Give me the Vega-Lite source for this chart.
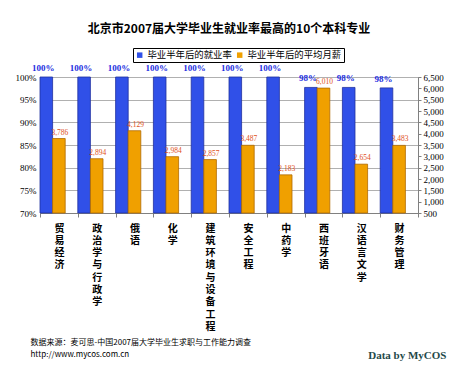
{
  "$schema": "https://vega.github.io/schema/vega-lite/v6.json",
  "autosize": {"type": "none"},
  "padding": {"left": 40, "top": 77, "right": 42, "bottom": 175},
  "width": 378,
  "height": 136,
  "background": "white",
  "title": {
    "text": "北京市2007届大学毕业生就业率最高的10个本科专业",
    "font": "Noto Sans CJK SC",
    "fontSize": 12,
    "fontWeight": "bold",
    "color": "#000000",
    "anchor": "middle",
    "offset": 12
  },
  "data": {
    "values": [
      {"major": "贸易经济", "series": "毕业半年后的就业率", "value": 1.0},
      {"major": "政治学与行政学", "series": "毕业半年后的就业率", "value": 1.0},
      {"major": "俄语", "series": "毕业半年后的就业率", "value": 1.0},
      {"major": "化学", "series": "毕业半年后的就业率", "value": 1.0},
      {"major": "建筑环境与设备工程", "series": "毕业半年后的就业率", "value": 1.0},
      {"major": "安全工程", "series": "毕业半年后的就业率", "value": 1.0},
      {"major": "中药学", "series": "毕业半年后的就业率", "value": 1.0},
      {"major": "西班牙语", "series": "毕业半年后的就业率", "value": 0.977},
      {"major": "汉语言文学", "series": "毕业半年后的就业率", "value": 0.977},
      {"major": "财务管理", "series": "毕业半年后的就业率", "value": 0.976},
      {"major": "贸易经济", "series": "毕业半年后的平均月薪", "value": 3786},
      {"major": "政治学与行政学", "series": "毕业半年后的平均月薪", "value": 2894},
      {"major": "俄语", "series": "毕业半年后的平均月薪", "value": 4129},
      {"major": "化学", "series": "毕业半年后的平均月薪", "value": 2984},
      {"major": "建筑环境与设备工程", "series": "毕业半年后的平均月薪", "value": 2857},
      {"major": "安全工程", "series": "毕业半年后的平均月薪", "value": 3487},
      {"major": "中药学", "series": "毕业半年后的平均月薪", "value": 2183},
      {"major": "西班牙语", "series": "毕业半年后的平均月薪", "value": 6010},
      {"major": "汉语言文学", "series": "毕业半年后的平均月薪", "value": 2654},
      {"major": "财务管理", "series": "毕业半年后的平均月薪", "value": 3483}
    ]
  },
  "encoding": {
    "x": {
      "field": "major",
      "type": "nominal",
      "sort": null,
      "scale": {"paddingInner": 0, "paddingOuter": 0},
      "axis": {
        "labelAngle": 0,
        "labelExpr": "split(datum.label, '')",
        "labelFont": "Noto Sans CJK SC",
        "labelFontSize": 10,
        "labelFontWeight": "bold",
        "labelColor": "#000000",
        "labelLineHeight": 12.3,
        "labelPadding": 6,
        "labelBaseline": "top",
        "tickBand": "extent",
        "tickColor": "#808080",
        "tickSize": 4,
        "domainColor": "#808080",
        "title": ["数据来源：麦可思-中国2007届大学毕业生求职与工作能力调查", "http://www.mycos.com.cn"],
        "titleFont": "Noto Sans CJK SC",
        "titleFontSize": 8,
        "titleFontWeight": "normal",
        "titleColor": "#000000",
        "titleAnchor": "start",
        "titleAlign": "left",
        "titleBaseline": "top",
        "titleLineHeight": 12,
        "titleX": -10,
        "titleY": 125
      }
    },
    "xOffset": {
      "field": "series",
      "type": "nominal",
      "scale": {"domain": ["毕业半年后的就业率", "毕业半年后的平均月薪", "gap"], "paddingInner": 0, "paddingOuter": 0}
    },
    "color": {
      "field": "series",
      "type": "nominal",
      "scale": {"domain": ["毕业半年后的就业率", "毕业半年后的平均月薪"], "range": ["#3050e8", "#f0a000"]},
      "legend": {
        "title": null,
        "orient": "none",
        "legendX": 93,
        "legendY": -29,
        "direction": "horizontal",
        "symbolType": "square",
        "symbolSize": 30,
        "symbolStrokeWidth": 0,
        "labelFont": "Noto Sans CJK SC",
        "labelFontSize": 9.4,
        "labelColor": "#000000",
        "labelOffset": 3,
        "columnPadding": 3,
        "padding": 2,
        "strokeColor": "#000000",
        "labelLimit": 200
      }
    }
  },
  "layer": [
    {
      "transform": [{"filter": "datum.series == '毕业半年后的就业率'"}],
      "encoding": {
        "y": {
          "field": "value",
          "type": "quantitative",
          "scale": {"domain": [0.7, 1.0], "zero": false, "nice": false, "clamp": true},
          "axis": {
            "orient": "left",
            "title": null,
            "values": [0.7, 0.75, 0.8, 0.85, 0.9, 0.95, 1.0],
            "format": ".0%",
            "labelOverlap": false,
            "labelFont": "Liberation Serif",
            "labelFontSize": 9,
            "labelColor": "#000000",
            "labelPadding": 4,
            "ticks": false,
            "domain": false,
            "grid": true,
            "gridColor": "#b0b0b0",
            "gridWidth": 1
          }
        }
      },
      "layer": [
        {
          "mark": {"type": "bar", "stroke": "#2030a0", "strokeWidth": 0.8}
        },
        {
          "mark": {"type": "text", "baseline": "bottom", "dy": -4, "dx": -3, "font": "Liberation Serif", "fontSize": 9, "fontWeight": "bold"},
          "encoding": {
            "text": {"field": "value", "type": "quantitative", "format": ".0%"},
            "color": {"value": "#1c2ee0"}
          }
        }
      ]
    },
    {
      "transform": [{"filter": "datum.series == '毕业半年后的平均月薪'"}],
      "encoding": {
        "y": {
          "field": "value",
          "type": "quantitative",
          "scale": {"domain": [500, 6500], "zero": false, "nice": false, "clamp": true},
          "axis": {
            "orient": "right",
            "title": "Data by MyCOS",
            "titleAngle": 0,
            "titleFont": "Liberation Sans Narrow",
            "titleFontSize": 11,
            "titleFontWeight": "bold",
            "titleColor": "#1f4a4a",
            "titleAlign": "right",
            "titleBaseline": "middle",
            "titleX": 28,
            "titleY": 278,
            "values": [500, 1000, 1500, 2000, 2500, 3000, 3500, 4000, 4500, 5000, 5500, 6000, 6500],
            "format": ",.0f",
            "labelOverlap": false,
            "labelFont": "Liberation Serif",
            "labelFontSize": 9,
            "labelColor": "#000000",
            "tickColor": "#808080",
            "tickSize": 3,
            "labelPadding": 2,
            "domainColor": "#808080",
            "grid": false
          }
        }
      },
      "layer": [
        {
          "mark": {"type": "bar", "stroke": "#b06a00", "strokeWidth": 0.8}
        },
        {
          "mark": {"type": "text", "baseline": "bottom", "dy": -2, "dx": 1, "font": "Liberation Serif", "fontSize": 7.5},
          "encoding": {
            "text": {"field": "value", "type": "quantitative", "format": ",.0f"},
            "color": {"value": "#e0501a"}
          }
        }
      ]
    }
  ],
  "resolve": {"scale": {"y": "independent"}},
  "config": {
    "view": {"stroke": "#909090", "strokeWidth": 1}
  }
}
